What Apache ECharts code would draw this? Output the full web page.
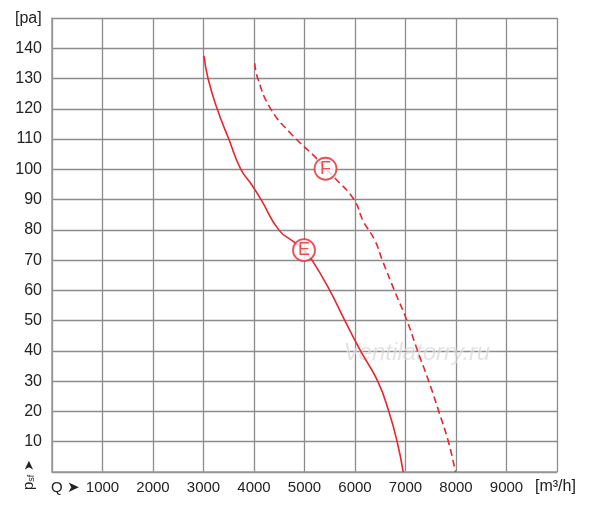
<!DOCTYPE html>
<html>
<head>
<meta charset="utf-8">
<script src="https://cdn.jsdelivr.net/npm/echarts@6/dist/echarts.min.js"></script>
<style>
html,body{margin:0;padding:0;background:#fff;}
#c{width:600px;height:513px;}
</style>
</head>
<body>
<div id="c"></div>
<script>
// Curve E (solid): [Q m3/h, psf Pa]
const curveE = [[3010,137.5],[3090,130],[3270,120],[3500,110],[3740,100],[3950,95],[4140,90],[4490,80],[4790,76],[4990,73.3],[5150,70],[5500,60],[5800,50],[6110,40],[6450,30],[6670,20],[6835,10],[6955,0]];
// Curve F (dashed)
const curveF = [[4015,135],[4075,130],[4330,120],[4720,112],[5250,103.4],[5416,100.2],[5580,97.5],[5980,90],[6160,83],[6390,76.6],[6540,70],[6780,60],[7030,50],[7240,40],[7460,30],[7660,20],[7850,10],[7990,0]];
// Curve markers
const markerNames = ['E','F'];
const markerQ = [4990, 5416];
const markerP = [73.3, 100.2];
// Tick labels
const xTicks = [1000,2000,3000,4000,5000,6000,7000,8000,9000];
const yTicks = [10,20,30,40,50,60,70,80,90,100,110,120,130,140];

const RED = '#e8262c';
const FONT = 'Liberation Sans, Arial, Helvetica, sans-serif';

const chart = echarts.init(document.getElementById('c'), null, {renderer:'canvas'});
chart.setOption({
  animation:false,
  backgroundColor:'#fff',
  grid:{left:52, right:43, top:18, bottom:41, show:false},
  xAxis:{
    type:'value', min:0, max:10000, interval:1000,
    axisLine:{show:true, lineStyle:{color:'#999', width:1.5}},
    axisTick:{show:false},
    splitLine:{show:true, lineStyle:{color:'#8c8c8c', width:1.3}},
    axisLabel:{
      margin:8, fontSize:15, color:'#222', fontFamily:FONT,
      formatter:v => xTicks.includes(v) ? String(v) : ''
    }
  },
  yAxis:{
    type:'value', min:0, max:150, interval:10,
    axisLine:{show:true, lineStyle:{color:'#999', width:1.5}},
    axisTick:{show:false},
    splitLine:{show:true, lineStyle:{color:'#8c8c8c', width:1.3}},
    axisLabel:{
      margin:10, fontSize:16, color:'#222', fontFamily:FONT,
      formatter:v => yTicks.includes(v) ? String(v) : ''
    }
  },
  series:[
    {type:'line', data:curveE, smooth:0.5, showSymbol:false, lineStyle:{color:RED, width:1.6}, z:3},
    {type:'line', data:curveF, smooth:0.5, showSymbol:false, lineStyle:{color:RED, width:1.6, type:[7,4]}, z:3},
    {type:'scatter', z:5,
      data: markerNames.map((n,i)=>({value:[markerQ[i], markerP[i]], name:n})),
      symbol:'circle', symbolSize:22,
      itemStyle:{color:'#fff', borderColor:RED, borderWidth:1.8},
      label:{show:true, position:'inside', formatter:p=>p.name, color:RED, fontSize:18, fontFamily:FONT}
    }
  ],
  graphic:[
    {type:'text', left:15, top:11, style:{text:'[pa]', fill:'#222', font:'16px '+FONT}},
    {type:'text', left:51, top:480, style:{text:'Q ➤', fill:'#222', font:'15px '+FONT}},
    {type:'text', left:535, top:479, style:{text:'[m³/h]', fill:'#222', font:'16px '+FONT}},
    {type:'text', x:29, y:490, rotation:Math.PI/2,
      style:{text:'{p|p}{s|sf} ➤', fill:'#222', align:'left', verticalAlign:'middle',
        rich:{p:{fontSize:15, fontFamily:FONT, fill:'#222'}, s:{fontSize:9, fontFamily:FONT, fill:'#222', padding:[6,0,0,0]}},
        fontSize:13, fontFamily:FONT}},
    {type:'text', left:343, top:341, z:1,
      style:{text:'Ventilatorry.ru', font:'italic 24px '+FONT, fill:'rgba(205,205,205,0.55)',
        stroke:'rgba(255,255,255,0.6)', lineWidth:1}}
  ]
});
</script>
</body>
</html>
